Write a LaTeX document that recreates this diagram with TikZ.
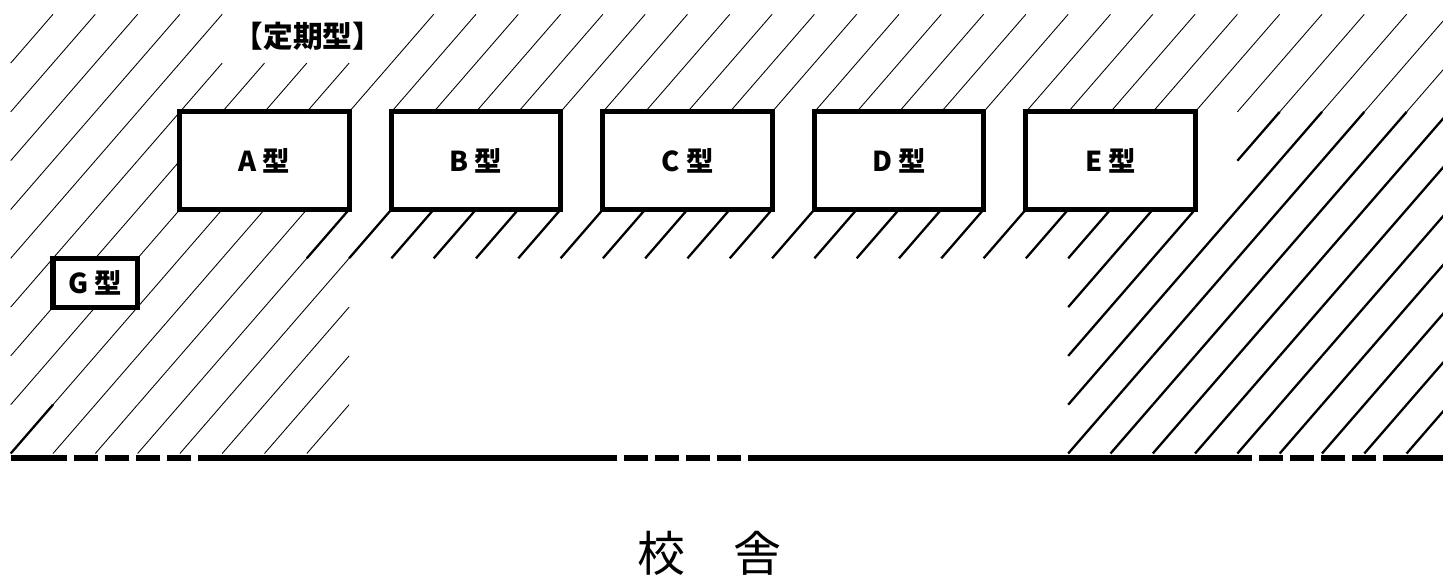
\documentclass[tikz,border=0pt]{standalone}
\usepackage{fontspec}
\newfontfamily\jpfont{Noto Sans CJK JP}
\usepackage{tikz}

\begin{document}
\begin{tikzpicture}[x=0.846cm,y=-0.976cm,
    hatchthin/.style={line width=0.5pt},
    hatchthick/.style={line width=1.3pt},
    katabox/.style={draw,line width=2.85pt,inner sep=0pt,
      minimum width=3.384cm,minimum height=1.952cm,
      font=\jpfont\bfseries\fontsize{15.6pt}{17pt}\selectfont},
    gbox/.style={katabox,minimum width=1.692cm,minimum height=0.976cm},
    kabe/.style={line width=3.7pt}]
  \useasboundingbox (-0.253,-0.293) rectangle (33.861,11.49);
  \clip (-0.253,-0.293) rectangle (33.861,11.49);

  \foreach \j in {0,...,4} \draw[hatchthin] (\j,1) -- ++(1,-1);
  \foreach \j in {9,...,33} \draw[hatchthin] (\j,1) -- ++(1,-1);
  \foreach \j in {0,...,33} \draw[hatchthin] (\j,2) -- ++(1,-1);
  \foreach \k in {2,3} \foreach \j in {0,...,3} \draw[hatchthin] (\j,\k+1) -- ++(1,-1);
  \foreach \j in {0,...,6} \draw[hatchthin] (\j,5) -- ++(1,-1);
  \foreach \j in {0,3,4,5,6,7} \draw[hatchthin] (\j,6) -- ++(1,-1);
  \foreach \k in {6,7} \foreach \j in {0,...,7} \draw[hatchthin] (\j,\k+1) -- ++(1,-1);
  \foreach \j in {1,...,7} \draw[hatchthin] (\j,9) -- ++(1,-1);

  \foreach \k in {2,3} \foreach \j in {29,...,33} \draw[hatchthick] (\j,\k+1) -- ++(1,-1);
  \foreach \j in {7,...,33} \draw[hatchthick] (\j,5) -- ++(1,-1);
  \foreach \k in {5,...,8} \foreach \j in {25,...,33} \draw[hatchthick] (\j,\k+1) -- ++(1,-1);
  \draw[hatchthick] (0,9) -- ++(1,-1);

  \node[katabox] (A) at (6,3) {A 型};
  \node[katabox] (B) at (11,3) {B 型};
  \node[katabox] (C) at (16,3) {C 型};
  \node[katabox] (D) at (21,3) {D 型};
  \node[katabox] (E) at (26,3) {E 型};
  \node[gbox] (G) at (2,5.5) {G 型};

  \node[font=\jpfont\bfseries\fontsize{16.9pt}{18pt}\selectfont] (teiki) at (7.03,0.45) {【定期型】};

  \coordinate (w0) at (0,9.09);
  \coordinate (w1) at (1,9.09);
  \coordinate (w5) at (5,9.09);
  \coordinate (w14) at (14,9.09);
  \coordinate (w18) at (18,9.09);
  \coordinate (w29) at (29,9.09);
  \coordinate (w33) at (33,9.09);
  \coordinate (w34) at (34,9.09);
  \draw[kabe] (w0) -- (w1);
  \draw[kabe,dash pattern=on 0.48cm off 0.14cm] (w5) -- (w1);
  \draw[kabe] (w5) -- (w14);
  \draw[kabe,dash pattern=on 0.48cm off 0.14cm] (w18) -- (w14);
  \draw[kabe] (w18) -- (w29);
  \draw[kabe,dash pattern=on 0.48cm off 0.14cm] (w33) -- (w29);
  \draw[kabe] (w33) -- (w34);

  \node[font=\jpfont\fontsize{27.3pt}{30pt}\selectfont] (kosha) at (16.51,11.04) {校　舎};
\end{tikzpicture}
\end{document}
